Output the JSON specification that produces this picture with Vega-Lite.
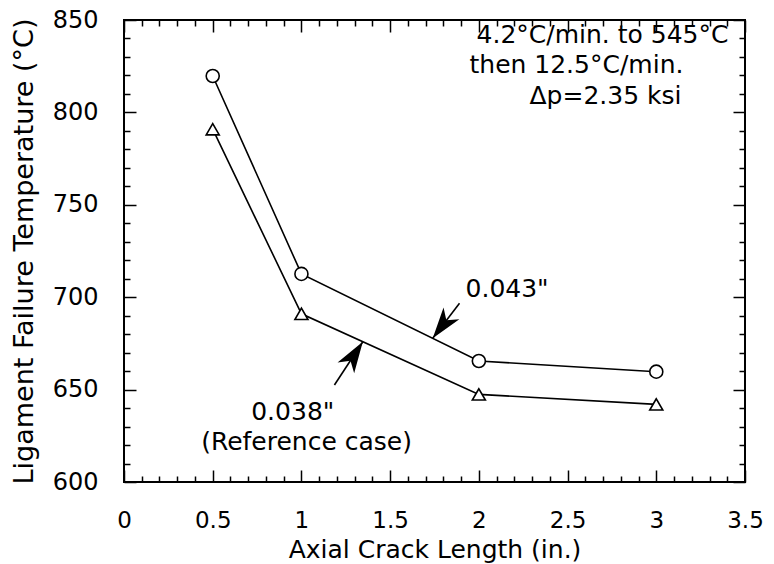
{
  "$schema": "https://vega.github.io/schema/vega-lite/v6.json",
  "width": 621,
  "height": 462,
  "autosize": {"type": "none"},
  "padding": {"left": 124, "top": 20, "right": 29, "bottom": 82},
  "background": "white",
  "config": {
    "font": "DejaVu Sans",
    "view": {"stroke": "black", "strokeWidth": 2},
    "axis": {
      "domain": false,
      "grid": false,
      "tickColor": "black",
      "tickWidth": 1.5,
      "labelColor": "black",
      "titleColor": "black",
      "labelFont": "DejaVu Sans",
      "titleFont": "DejaVu Sans",
      "labelFontSize": 24,
      "titleFontSize": 26,
      "titleFontWeight": "normal",
      "labelOverlap": false,
      "labelFlush": false
    },
    "text": {"font": "DejaVu Sans"}
  },
  "datasets": {
    "series": [
      {"crack": 0.5, "temp": 819.7, "case": "0.043\""},
      {"crack": 1, "temp": 712.6, "case": "0.043\""},
      {"crack": 2, "temp": 665.5, "case": "0.043\""},
      {"crack": 3, "temp": 659.7, "case": "0.043\""},
      {"crack": 0.5, "temp": 790.9, "case": "0.038\""},
      {"crack": 1, "temp": 691.0, "case": "0.038\""},
      {"crack": 2, "temp": 647.4, "case": "0.038\""},
      {"crack": 3, "temp": 642.0, "case": "0.038\""}
    ],
    "notesRight": [
      {"x": 3.407, "y": 837.4, "text": "4.2°C/min. to 545°C"},
      {"x": 3.153, "y": 821.3, "text": "then 12.5°C/min."},
      {"x": 3.142, "y": 804.3, "text": "Δp=2.35 ksi"}
    ],
    "notesLeft": [
      {"x": 1.925, "y": 700.1, "text": "0.043\""},
      {"x": 0.717, "y": 633.6, "text": "0.038\""},
      {"x": 0.435, "y": 617.3, "text": "(Reference case)"}
    ],
    "arrows": [
      {"label": "0.043\"", "x": 1.891, "y": 696.7, "x2": 1.740, "y2": 677.8},
      {"label": "0.038\"", "x": 1.186, "y": 652.5, "x2": 1.346, "y2": 675.9}
    ]
  },
  "layer": [
    {
      "data": {"name": "series"},
      "mark": {"type": "point", "opacity": 0},
      "encoding": {
        "x": {
          "field": "crack", "type": "quantitative",
          "scale": {"domain": [0, 3.5], "nice": false, "zero": false},
          "axis": {
            "orient": "top", "labels": false, "title": null,
            "values": [0,0.1,0.2,0.3,0.4,0.5,0.6,0.7,0.8,0.9,1,1.1,1.2,1.3,1.4,1.5,1.6,1.7,1.8,1.9,2,2.1,2.2,2.3,2.4,2.5,2.6,2.7,2.8,2.9,3,3.1,3.2,3.3,3.4,3.5],
            "tickSize": {"condition": {"test": "round(datum.value*10) % 5 === 0", "value": -12}, "value": -6}
          }
        },
        "y": {
          "field": "temp", "type": "quantitative",
          "scale": {"domain": [600, 850], "nice": false, "zero": false},
          "axis": {
            "orient": "right", "labels": false, "title": null,
            "values": [600,610,620,630,640,650,660,670,680,690,700,710,720,730,740,750,760,770,780,790,800,810,820,830,840,850],
            "tickSize": {"condition": {"test": "datum.value % 50 === 0", "value": -12}, "value": -6}
          }
        }
      }
    },
    {
      "data": {"name": "series"},
      "mark": {"type": "line", "color": "black", "strokeWidth": 1.6},
      "encoding": {
        "x": {
          "field": "crack", "type": "quantitative",
          "axis": {
            "orient": "bottom",
            "title": "Axial Crack Length (in.)",
            "titleFontSize": 25,
            "titlePadding": -1,
            "labelFontSize": 23,
            "labelPadding": 39,
            "values": [0,0.1,0.2,0.3,0.4,0.5,0.6,0.7,0.8,0.9,1,1.1,1.2,1.3,1.4,1.5,1.6,1.7,1.8,1.9,2,2.1,2.2,2.3,2.4,2.5,2.6,2.7,2.8,2.9,3,3.1,3.2,3.3,3.4,3.5],
            "labelExpr": "round(datum.value*10) % 5 === 0 ? format(datum.value, '~g') : ''",
            "tickSize": {"condition": {"test": "round(datum.value*10) % 5 === 0", "value": -12}, "value": -6}
          }
        },
        "y": {
          "field": "temp", "type": "quantitative",
          "axis": {
            "orient": "left",
            "title": "Ligament Failure Temperature (°C)",
            "titleFontSize": 27,
            "titlePadding": 14,
            "labelPadding": 38,
            "values": [600,610,620,630,640,650,660,670,680,690,700,710,720,730,740,750,760,770,780,790,800,810,820,830,840,850],
            "labelExpr": "datum.value % 50 === 0 ? datum.label : ''",
            "tickSize": {"condition": {"test": "datum.value % 50 === 0", "value": -12}, "value": -6}
          }
        },
        "detail": {"field": "case", "type": "nominal"}
      }
    },
    {
      "data": {"name": "series"},
      "mark": {"type": "point", "filled": true, "fill": "white", "stroke": "black", "strokeWidth": 1.6, "size": 170, "opacity": 1},
      "encoding": {
        "x": {"field": "crack", "type": "quantitative", "axis": null},
        "y": {"field": "temp", "type": "quantitative", "axis": null},
        "shape": {
          "field": "case", "type": "nominal",
          "scale": {"domain": ["0.043\"", "0.038\""], "range": ["circle", "triangle-up"]},
          "legend": null
        }
      }
    },
    {
      "data": {"name": "arrows"},
      "mark": {"type": "rule", "color": "black", "strokeWidth": 1.6},
      "encoding": {
        "x": {"field": "x", "type": "quantitative", "axis": null},
        "y": {"field": "y", "type": "quantitative", "axis": null},
        "x2": {"field": "x2"},
        "y2": {"field": "y2"}
      }
    },
    {
      "data": {"name": "arrows"},
      "transform": [{"filter": "datum.label === '0.043\"'"}],
      "mark": {"type": "point", "shape": "M0,0L0.7,2.2L0,1.6L-0.7,2.2Z", "filled": true, "color": "black", "opacity": 1, "size": 800, "angle": 217},
      "encoding": {
        "x": {"field": "x2", "type": "quantitative", "axis": null},
        "y": {"field": "y2", "type": "quantitative", "axis": null}
      }
    },
    {
      "data": {"name": "arrows"},
      "transform": [{"filter": "datum.label === '0.038\"'"}],
      "mark": {"type": "point", "shape": "M0,0L0.7,2.2L0,1.6L-0.7,2.2Z", "filled": true, "color": "black", "opacity": 1, "size": 800, "angle": 33},
      "encoding": {
        "x": {"field": "x2", "type": "quantitative", "axis": null},
        "y": {"field": "y2", "type": "quantitative", "axis": null}
      }
    },
    {
      "data": {"name": "notesRight"},
      "mark": {"type": "text", "align": "right", "baseline": "alphabetic", "fontSize": 25, "color": "black"},
      "encoding": {
        "x": {"field": "x", "type": "quantitative", "axis": null},
        "y": {"field": "y", "type": "quantitative", "axis": null},
        "text": {"field": "text"}
      }
    },
    {
      "data": {"name": "notesLeft"},
      "mark": {"type": "text", "align": "left", "baseline": "alphabetic", "fontSize": 25, "color": "black"},
      "encoding": {
        "x": {"field": "x", "type": "quantitative", "axis": null},
        "y": {"field": "y", "type": "quantitative", "axis": null},
        "text": {"field": "text"}
      }
    }
  ],
  "resolve": {"axis": {"x": "independent", "y": "independent"}}
}
